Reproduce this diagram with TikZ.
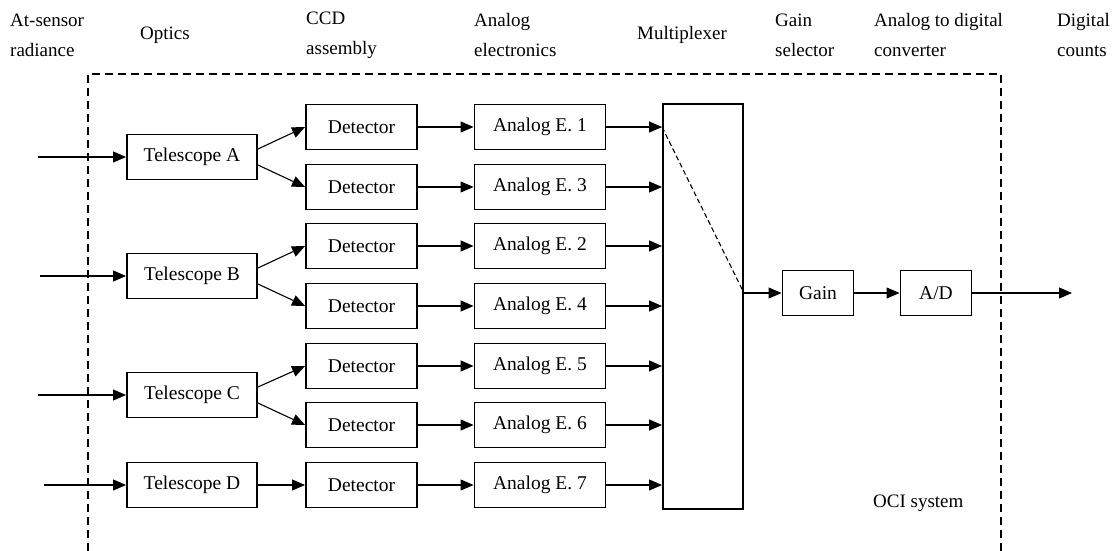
\documentclass[tikz,border=0pt]{standalone}
\usepackage{fontspec}
\setmainfont{Liberation Serif}
\usetikzlibrary{arrows.meta,calc}
\begin{document}
\begin{tikzpicture}[x=1pt,y=-1pt,
  every node/.style={font=\fontsize{19.5}{30}\selectfont, inner sep=0pt},
  blk/.style={draw, line width=1.9pt, minimum height=45pt},
  telbox/.style={blk, minimum width=130pt},
  detbox/.style={blk, minimum width=111pt},
  anabox/.style={blk, minimum width=131pt},
  smallbox/.style={blk, minimum width=71pt},
  lbl/.style={anchor=west, align=left, font=\fontsize{19}{30}\selectfont},
  conn/.style={line width=1.1pt, -{Triangle[length=13pt,width=11pt]}},
  sysline/.style={line width=1.1pt, dash pattern=on 8pt off 5pt},
  swline/.style={line width=1.1pt, dash pattern=on 5pt off 3pt}]
\useasboundingbox (0,0) rectangle (1112,551);
% top labels
\node[lbl] (l1) at (10,35) {At-sensor\\radiance};
\node[lbl] (l2) at (140,35) {Optics};
\node[lbl] (l3) at (306,35) {CCD\\assembly};
\node[lbl] (l4) at (474,35) {Analog\\electronics};
\node[lbl] (l5) at (637,35) {Multiplexer};
\node[lbl] (l6) at (775,35) {Gain\\selector};
\node[lbl] (l7) at (874,35) {Analog to digital\\converter};
\node[lbl] (l8) at (1057,35) {Digital\\counts};
\node[lbl] (oci) at (873,503) {OCI system};
% system boundary
\draw[sysline] (88,551) -- (88,74) -- (1001,74) -- (1001,551);
% telescopes
\node[telbox] (tA) at (192,157) {Telescope A};
\node[telbox] (tB) at (192,276) {Telescope B};
\node[telbox] (tC) at (192,395) {Telescope C};
\node[telbox] (tD) at (192,485) {Telescope D};
% detectors
\foreach \i/\y in {1/127,2/187,3/246,4/306,5/366,6/425,7/485}{
  \node[detbox] (d\i) at (361.5,\y) {Detector};
}
% analog electronics
\node[anabox] (a1) at (540,127) {Analog E. 1};
\node[anabox] (a2) at (540,187) {Analog E. 3};
\node[anabox] (a3) at (540,246) {Analog E. 2};
\node[anabox] (a4) at (540,306) {Analog E. 4};
\node[anabox] (a5) at (540,366) {Analog E. 5};
\node[anabox] (a6) at (540,425) {Analog E. 6};
\node[anabox] (a7) at (540,485) {Analog E. 7};
% multiplexer
\node[draw, line width=1.9pt, minimum width=80pt, minimum height=405pt] (mux) at (703,306.5) {};
% gain and A/D
\node[smallbox] (gain) at (818,293) {Gain};
\node[smallbox] (ad) at (936,293) {A/D};
% inputs
\coordinate (inA) at (38,157);
\coordinate (inB) at (40,276);
\coordinate (inC) at (38,395);
\coordinate (inD) at (44,485);
\draw[conn] (inA) -- (tA.west);
\draw[conn] (inB) -- (tB.west);
\draw[conn] (inC) -- (tC.west);
\draw[conn] (inD) -- (tD.west);
% telescopes to detectors
\draw[conn] ([yshift=8pt]tA.east) -- (d1.west);
\draw[conn] ([yshift=-8pt]tA.east) -- (d2.west);
\draw[conn] ([yshift=8pt]tB.east) -- (d3.west);
\draw[conn] ([yshift=-8pt]tB.east) -- (d4.west);
\draw[conn] ([yshift=8pt]tC.east) -- (d5.west);
\draw[conn] ([yshift=-8pt]tC.east) -- (d6.west);
\draw[conn] (tD.east) -- (d7.west);
% detectors to analog, analog to mux
\foreach \i in {1,...,7}{
  \draw[conn] (d\i.east) -- (a\i.west);
  \draw[conn] (a\i.east) -- (mux.west |- a\i.east);
}
% switch
\coordinate (swin) at (mux.west |- a1.east);
\coordinate (swout) at (mux.east |- gain.west);
\draw[swline] (swin) -- (swout);
\draw[conn] (swout) -- (gain.west);
\draw[conn] (gain.east) -- (ad.west);
\coordinate (out) at (1072,293);
\draw[conn] (ad.east) -- (out);
\end{tikzpicture}
\end{document}
